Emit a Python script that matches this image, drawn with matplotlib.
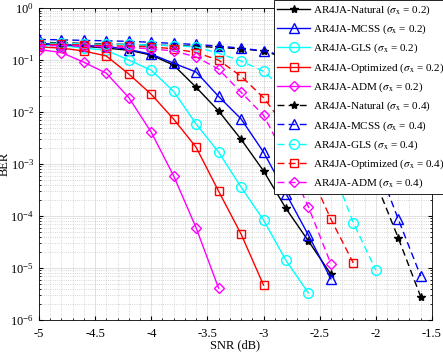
import matplotlib
matplotlib.use('Agg')
import matplotlib.pyplot as plt
from matplotlib.ticker import MultipleLocator, LogLocator, NullFormatter

plt.rcParams['font.family'] = ['Liberation Serif', 'DejaVu Serif']
plt.rcParams['mathtext.fontset'] = 'stix'

snr = [-5.0, -4.8, -4.6, -4.4, -4.2, -4.0, -3.8, -3.6, -3.4, -3.2,
       -3.0, -2.8, -2.6, -2.4, -2.2, -2.0, -1.8, -1.6]

# sigma_x = 0.2
natural_02 = [0.20, 0.19, 0.185, 0.17, 0.155, 0.125, 0.080, 0.030, 0.0105, 0.003,
              7.4e-4, 1.4e-4, 3.3e-5, 7.6e-6]
mcss_02 = [0.21, 0.20, 0.19, 0.185, 0.16, 0.13, 0.087, 0.059, 0.020, 0.0074,
           0.0017, 2.7e-4, 4.3e-5, 6.2e-6]
gls_02 = [0.19, 0.19, 0.17, 0.155, 0.10, 0.064, 0.025, 0.0059, 0.0017, 3.6e-4,
          8.4e-5, 1.4e-5, 3.3e-6]
opt_02 = [0.18, 0.17, 0.15, 0.12, 0.054, 0.022, 0.0073, 0.0021, 3.0e-4, 4.5e-5,
          4.7e-6]
adm_02 = [0.16, 0.14, 0.091, 0.056, 0.019, 0.0041, 5.9e-4, 5.9e-5, 4.1e-6]

# sigma_x = 0.4
natural_04 = [0.22, 0.215, 0.21, 0.205, 0.20, 0.195, 0.19, 0.185, 0.175, 0.165,
              0.15, 0.11, 0.065, 0.022, 0.004, 4.5e-4, 3.8e-5, 2.8e-6]
mcss_04 = [0.25, 0.245, 0.24, 0.235, 0.23, 0.22, 0.21, 0.20, 0.186, 0.17,
           0.15, 0.12, 0.077, 0.033, 0.0088, 1.2e-3, 8.7e-5, 7.0e-6]
gls_04 = [0.21, 0.21, 0.205, 0.20, 0.20, 0.195, 0.19, 0.178, 0.136, 0.096,
          0.061, 0.025, 0.006, 1.0e-3, 7.4e-5, 9.1e-6]
opt_04 = [0.20, 0.20, 0.195, 0.19, 0.185, 0.18, 0.165, 0.14, 0.10, 0.049,
          0.019, 0.005, 8.0e-4, 8.7e-5, 1.25e-5]
adm_04 = [0.19, 0.19, 0.185, 0.18, 0.175, 0.165, 0.15, 0.115, 0.067, 0.024,
          0.0087, 0.0013, 1.5e-4, 1.2e-5]

fig = plt.figure(figsize=(4.43, 3.54), dpi=100)
ax = fig.add_axes([0.088, 0.096, 0.887, 0.881])

K, B, C, R, M = '#000000', '#0000ff', '#00ffff', '#ff0000', '#ff00ff'
series = [
    (natural_02, K, '*', '-', 'AR4JA-Natural', '0.2'),
    (mcss_02, B, '^', '-', 'AR4JA-MCSS', '0.2'),
    (gls_02, C, 'o', '-', 'AR4JA-GLS', '0.2'),
    (opt_02, R, 's', '-', 'AR4JA-Optimized', '0.2'),
    (adm_02, M, 'D', '-', 'AR4JA-ADM', '0.2'),
    (natural_04, K, '*', '--', 'AR4JA-Natural', '0.4'),
    (mcss_04, B, '^', '--', 'AR4JA-MCSS', '0.4'),
    (gls_04, C, 'o', '--', 'AR4JA-GLS', '0.4'),
    (opt_04, R, 's', '--', 'AR4JA-Optimized', '0.4'),
    (adm_04, M, 'D', '--', 'AR4JA-ADM', '0.4'),
]

sizes = {'*': 6, '^': 7, 'o': 7, 's': 5.5, 'D': 5.5}
for vals, c, m, ls, name, sig in series:
    ax.semilogy(snr[:len(vals)], vals, color=c, marker=m, linestyle=ls,
                linewidth=1.0, markersize=sizes[m],
                markerfacecolor=c if m == '*' else 'none',
                markeredgewidth=1.0, dashes=(5, 3) if ls == '--' else (None, None),
                label=name + r' ($\sigma_{\mathrm{x}}$ = ' + sig + ')')

ax.set_xlim(-5, -1.5)
ax.set_ylim(1e-6, 1)
ax.xaxis.set_major_locator(MultipleLocator(0.5))
ax.xaxis.set_minor_locator(MultipleLocator(0.1))
ax.yaxis.set_major_locator(LogLocator(base=10, numticks=10))
ax.yaxis.set_minor_locator(LogLocator(base=10, subs=range(2, 10), numticks=10))
ax.yaxis.set_minor_formatter(NullFormatter())
ax.set_xticks([-5, -4.5, -4, -3.5, -3, -2.5, -2, -1.5])
ax.set_xticklabels(['-5', '-4.5', '-4', '-3.5', '-3', '-2.5', '-2', '-1.5'])

ax.grid(True, which='major', color='#dcdcdc', linewidth=0.6)
ax.grid(True, which='minor', color='#c8c8c8', linestyle=':', linewidth=0.6)
ax.set_axisbelow(True)
ax.tick_params(which='both', direction='in', top=True, right=True, labelsize=9)
ax.tick_params(which='major', length=3)
ax.tick_params(which='minor', length=1.5)
ax.tick_params(axis='x', which='major', pad=6)
for s in ax.spines.values():
    s.set_linewidth(0.6)

ax.set_xlabel('SNR (dB)', fontsize=9)
ax.set_ylabel('BER', fontsize=9)
ax.xaxis.set_label_coords(0.5, -0.062)
ax.yaxis.set_label_coords(-0.072, 0.5)

leg = fig.legend(loc='upper left', bbox_to_anchor=(0.618, 1.0), fontsize=8,
                 handlelength=3.0, handletextpad=0.25, labelspacing=0.52,
                 borderpad=0.3, borderaxespad=0.0, fancybox=False,
                 framealpha=1, edgecolor='k')
leg.get_frame().set_linewidth(0.6)

plt.savefig('out.png', dpi=100)
